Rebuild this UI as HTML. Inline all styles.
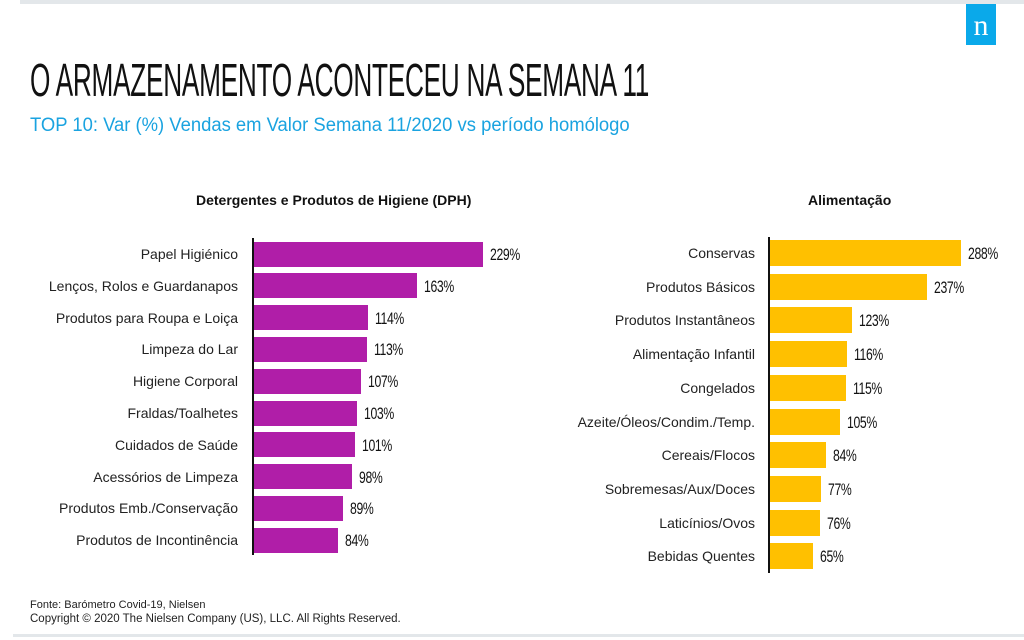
<!DOCTYPE html>
<html><head><meta charset="utf-8"><style>
body{margin:0;width:1024px;height:640px;background:#fff;position:relative;overflow:hidden;font-family:"Liberation Sans",sans-serif;}
.a{position:absolute;white-space:nowrap}
.lbl{font-size:14px;color:#222;text-align:right;width:300px;line-height:16px}
.val{font-size:17px;color:#111;line-height:16px;transform:scaleX(0.72);transform-origin:left center;letter-spacing:-0.5px}
.bar{position:absolute}
</style></head><body>
<div class="a" style="left:20px;top:0;width:1004px;height:4px;background:#e3e7ea"></div>
<div class="a" style="left:13px;top:634px;width:1011px;height:3px;background:#e3e7ea"></div>
<div class="a" style="left:966px;top:4px;width:30px;height:41px;background:#0aa9ea;color:#fff;font-family:'Liberation Serif',serif;font-size:30px;text-align:center;line-height:44px">n</div>
<div class="a" style="left:30px;top:57px;font-size:46px;color:#111;transform:scaleX(0.57);transform-origin:left top;line-height:46px;letter-spacing:-0.5px">O ARMAZENAMENTO ACONTECEU NA SEMANA 11</div>
<div class="a" style="left:30px;top:115px;font-size:19px;color:#1aa3e0;transform:scaleX(0.97);transform-origin:left top">TOP 10: Var (%) Vendas em Valor Semana 11/2020 vs período homólogo</div>
<div class="a" style="left:196px;top:192px;font-size:14px;font-weight:bold;color:#111">Detergentes e Produtos de Higiene (DPH)</div>
<div class="a" style="left:808px;top:192px;font-size:14px;font-weight:bold;color:#111">Alimentação</div>
<div class="a" style="left:252px;top:238px;width:2px;height:317px;background:#111"></div>
<div class="a" style="left:768px;top:237px;width:2px;height:336px;background:#111"></div>
<div class="a" style="left:30px;top:599px;font-size:11px;color:#222">Fonte: Barómetro Covid-19, Nielsen</div>
<div class="a" style="left:30px;top:613px;font-size:11.5px;color:#222">Copyright © 2020 The Nielsen Company (US), LLC. All Rights Reserved.</div>
<div id="c"></div>
<script>
var L=[["Papel Higiénico",229],["Lenços, Rolos e Guardanapos",163],["Produtos para Roupa e Loiça",114],["Limpeza do Lar",113],["Higiene Corporal",107],["Fraldas/Toalhetes",103],["Cuidados de Saúde",101],["Acessórios de Limpeza",98],["Produtos Emb./Conservação",89],["Produtos de Incontinência",84]];
var R=[["Conservas",288],["Produtos Básicos",237],["Produtos Instantâneos",123],["Alimentação Infantil",116],["Congelados",115],["Azeite/Óleos/Condim./Temp.",105],["Cereais/Flocos",84],["Sobremesas/Aux/Doces",77],["Laticínios/Ovos",76],["Bebidas Quentes",65]];
var h="";
function draw(d,x0,cy0,p,bh,sc,lr,col){d.forEach(function(e,i){var cy=cy0+i*p,w=e[1]*sc;
h+='<div class="bar" style="left:'+x0+'px;top:'+(cy-bh/2)+'px;width:'+w+'px;height:'+bh+'px;background:'+col+'"></div>';
h+='<div class="a lbl" style="left:'+(lr-300)+'px;top:'+(cy-8)+'px">'+e[0]+'</div>';
h+='<div class="a val" style="left:'+(x0+w+7)+'px;top:'+(cy-7)+'px">'+e[1]+'%</div>';});}
draw(L,254,254,31.8,25,1.0,238,"#b01ea8");
draw(R,770,253,33.7,26,0.663,755,"#ffc000");
document.getElementById("c").innerHTML=h;
</script>
</body></html>
